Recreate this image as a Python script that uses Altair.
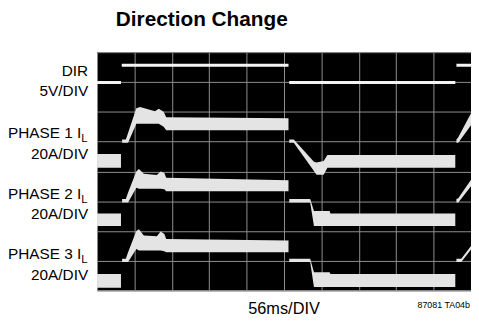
import altair as alt
import pandas as pd

FONT = "Liberation Sans, Arial, sans-serif"

# ---- DIR trace (division units: x 0..10, y 0..8) ----
dir_x = [0.0, 0.64, 0.66, 5.12, 5.14, 9.58, 9.61, 10.0]
dir_y = [6.98, 6.98, 7.56, 7.56, 6.98, 6.98, 7.56, 7.56]
dir_seg = ["a", "a", "b", "b", "c", "c", "d", "d"]

# ---- PHASE 1 inductor current (ripple band: top / bottom) ----
p1_x = [0.0, 0.64,
        0.67, 0.77, 0.83, 1.05, 1.15, 1.55, 1.65, 1.78, 1.85, 5.12,
        5.14, 5.26, 5.80, 5.87, 6.06, 6.16, 9.58,
        9.61, 9.66, 10.0]
p1_top = [4.58, 4.58,
          5.07, 5.07, 5.29, 6.12, 6.16, 6.02, 6.10, 6.00, 5.82, 5.78,
          5.07, 5.07, 4.32, 4.30, 4.35, 4.55, 4.55,
          5.07, 5.15, 5.95]
p1_bot = [4.12, 4.12,
          4.96, 4.96, 4.96, 5.60, 5.60, 5.60, 5.60, 5.50, 5.38, 5.38,
          4.96, 4.96, 4.01, 3.89, 3.89, 4.12, 4.12,
          4.96, 4.96, 5.55]
p1_seg = ["a"] * 2 + ["b"] * 10 + ["c"] * 7 + ["d"] * 3

# ---- PHASE 2 ----
p2_x = [0.0, 0.64,
        0.67, 0.77, 0.83, 1.05, 1.12, 1.25, 1.60, 1.70, 1.80, 1.85, 5.12,
        5.14, 5.70, 5.80, 6.22, 6.24, 9.58,
        9.61, 9.66, 10.0]
p2_top = [2.59, 2.59,
          3.07, 3.07, 3.29, 4.00, 4.08, 3.92, 3.88, 4.00, 3.95, 3.79, 3.70,
          3.07, 3.07, 2.67, 2.67, 2.59, 2.59,
          3.07, 3.10, 3.72]
p2_bot = [2.17, 2.17,
          2.96, 2.96, 2.96, 3.45, 3.42, 3.42, 3.42, 3.42, 3.40, 3.33, 3.33,
          2.96, 2.96, 2.17, 2.17, 2.17, 2.17,
          2.96, 2.96, 3.50]
p2_seg = ["a"] * 2 + ["b"] * 11 + ["c"] * 6 + ["d"] * 3

# ---- PHASE 3 ----
p3_x = [0.0, 0.64,
        0.67, 0.77, 0.83, 1.05, 1.12, 1.25, 1.60, 1.70, 1.80, 1.85, 5.12,
        5.14, 5.70, 5.80, 6.22, 6.24, 9.58,
        9.61, 9.74, 10.0]
p3_top = [0.56, 0.56,
          1.07, 1.07, 1.29, 2.00, 2.06, 1.85, 1.82, 1.98, 1.90, 1.73, 1.68,
          1.07, 1.07, 0.62, 0.62, 0.56, 0.56,
          1.07, 1.07, 1.50]
p3_bot = [0.10, 0.10,
          0.96, 0.96, 0.96, 1.40, 1.35, 1.35, 1.35, 1.35, 1.32, 1.29, 1.29,
          0.96, 0.96, 0.12, 0.12, 0.12, 0.12,
          0.96, 0.96, 1.38]
p3_seg = ["a"] * 2 + ["b"] * 11 + ["c"] * 6 + ["d"] * 3

grid_x = list(range(0, 11))
grid_y = list(range(0, 9))

rows = []
for name, xs, ts, bs, ss in [("p1", p1_x, p1_top, p1_bot, p1_seg),
                             ("p2", p2_x, p2_top, p2_bot, p2_seg),
                             ("p3", p3_x, p3_top, p3_bot, p3_seg)]:
    for x, t, b, s in zip(xs, ts, bs, ss):
        rows.append({"x": x, "top": t, "bot": b, "key": name + s})
bands = pd.DataFrame(rows)
dirdf = pd.DataFrame({"x": dir_x, "y": dir_y, "seg": dir_seg})


def gaxis(vals):
    return alt.Axis(values=vals, grid=True, labels=False, ticks=False,
                    domain=False, title=None, gridColor="#8f8f8f", gridWidth=1)


X = alt.X("x:Q", scale=alt.Scale(domain=[0, 10], nice=False, zero=False),
          axis=gaxis(grid_x))
Y = alt.Y("top:Q", scale=alt.Scale(domain=[0, 8], nice=False, zero=False),
          axis=gaxis(grid_y))
Yd = alt.Y("y:Q", scale=alt.Scale(domain=[0, 8], nice=False, zero=False),
           axis=gaxis(grid_y))

band_layer = alt.Chart(bands).mark_area(color="#e4e4e4", interpolate="linear",
                                        clip=True, opacity=1).encode(
    x=X, y=Y, y2="bot:Q", detail="key:N")

dir_layer = alt.Chart(dirdf).mark_line(color="#f4f4f4", strokeWidth=3,
                                       clip=True).encode(
    x=X.copy(), y=Yd, detail="seg:N")


def txt(s, x, y, size, align="right", weight="normal", color="black"):
    return alt.Chart(pd.DataFrame({"t": [s]})).mark_text(
        align=align, baseline="alphabetic", font=FONT, fontSize=size,
        fontWeight=weight, color=color).encode(
        text="t:N", x=alt.value(x), y=alt.value(y))


labels = [
    txt("Direction Change", 19, -26, 21, align="left", weight="bold"),
    txt("DIR", -9, 24, 15.5),
    txt("5V/DIV", -9, 44, 15.5),
    txt("PHASE 1 I", -16, 87, 15.5), txt("L", -16, 91, 11.5, align="left"),
    txt("20A/DIV", -9, 108, 15.5),
    txt("PHASE 2 I", -16, 148, 15.5), txt("L", -16, 152, 11.5, align="left"),
    txt("20A/DIV", -9, 169, 15.5),
    txt("PHASE 3 I", -16, 209, 15.5), txt("L", -16, 213, 11.5, align="left"),
    txt("20A/DIV", -9, 230, 15.5),
    txt("56ms/DIV", 189, 265, 16.5, align="center"),
    txt("87081 TA04b", 377, 259, 9),
]

chart = alt.layer(band_layer, dir_layer, *labels).properties(
    width=378, height=241,
    autosize=alt.AutoSizeParams(type="none"),
    padding={"left": 90, "top": 43, "right": 0, "bottom": 25},
    background="white",
).configure_view(fill="black", stroke=None)

chart.save("out.html", embed_options={"renderer": "svg", "actions": False})
